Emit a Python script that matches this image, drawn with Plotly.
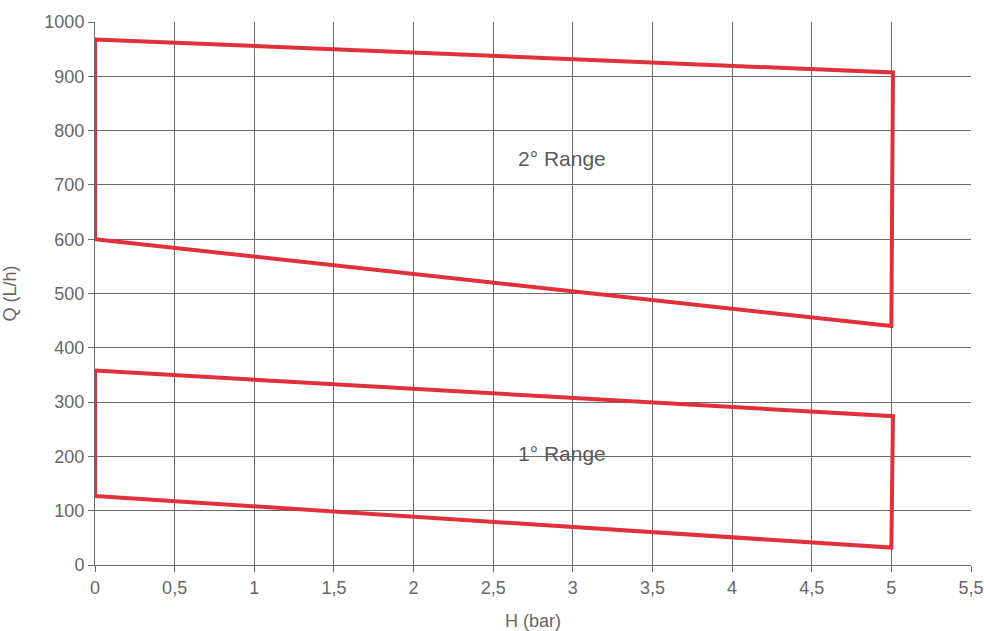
import plotly.graph_objects as go

# Data
range2_h = [0, 0, 5.01, 5.0, 0]
range2_q = [600, 968, 907, 440, 600]
range1_h = [0, 0, 5.01, 5.0, 0]
range1_q = [127, 358, 274, 32, 127]
labels = ["2° Range", "1° Range"]
label_h = [2.93, 2.93]
label_q = [748, 205]
x_ticks = [0, 0.5, 1, 1.5, 2, 2.5, 3, 3.5, 4, 4.5, 5, 5.5]
x_ticktext = ["0", "0,5", "1", "1,5", "2", "2,5", "3", "3,5", "4", "4,5", "5", "5,5"]
y_ticks = [0, 100, 200, 300, 400, 500, 600, 700, 800, 900, 1000]

red = "#e2303a"
grey = "#6b6b6b"
font_fam = "Liberation Sans, Arial, sans-serif"

fig = go.Figure()
for hx, qy in [(range2_h, range2_q), (range1_h, range1_q)]:
    fig.add_trace(go.Scatter(x=hx, y=qy, mode="lines",
                             line=dict(color=red, width=4), hoverinfo="skip",
                             showlegend=False))

for t, hx, qy in zip(labels, label_h, label_q):
    fig.add_annotation(x=hx, y=qy, text=t, showarrow=False,
                       font=dict(size=21, color="#5a5a5a", family=font_fam))

fig.update_layout(
    width=984, height=631,
    margin=dict(l=95, r=13, t=22, b=66),
    plot_bgcolor="white", paper_bgcolor="white",
    font=dict(family=font_fam, size=18, color="#666666"),
)
fig.update_xaxes(range=[0, 5.5], tickvals=x_ticks, ticktext=x_ticktext,
                 automargin=False,
                 showgrid=True, gridcolor=grey, gridwidth=1,
                 zeroline=False, showline=True, linecolor=grey, linewidth=1,
                 mirror=False, ticks="outside", ticklen=6, tickcolor=grey,
                 title=dict(text="H (bar)", standoff=18, font=dict(size=18)))
fig.update_yaxes(range=[0, 1000], tickvals=y_ticks,
                 automargin=False,
                 showgrid=True, gridcolor=grey, gridwidth=1,
                 zeroline=False, showline=True, linecolor=grey, linewidth=1,
                 ticks="outside", ticklen=6, tickcolor=grey,
                 title=dict(text="Q (L/h)", standoff=24, font=dict(size=18)))

fig.write_html("out.html",
               config={"displayModeBar": False},
               post_script="document.body.style.margin='0';document.body.style.overflow='hidden';")
